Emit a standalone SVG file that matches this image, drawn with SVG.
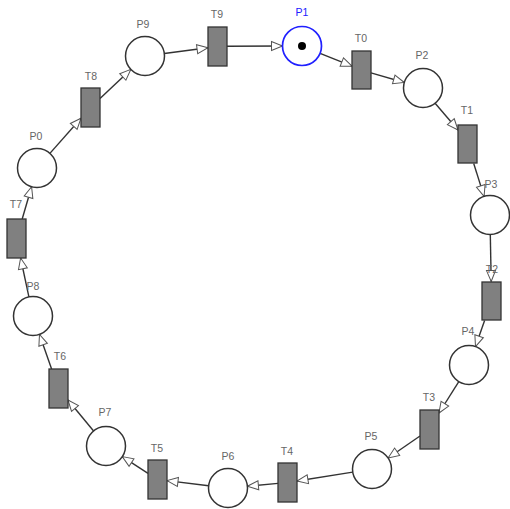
<svg xmlns="http://www.w3.org/2000/svg" width="510" height="509" viewBox="0 0 510 509">
<style>
.pl{fill:#fff;stroke:#333;stroke-width:1.5}
.tr{fill:#808080;stroke:#333;stroke-width:1.3}
.arc{stroke:#333;stroke-width:1.4;fill:none;marker-end:url(#ah)}
.lb{font-family:"Liberation Sans",Arial,sans-serif;font-size:10.5px;fill:#666;text-anchor:middle}
</style>
<defs>
<marker id="ah" markerUnits="userSpaceOnUse" viewBox="-13 -6 14 12" refX="0" refY="0" markerWidth="14" markerHeight="12" orient="auto">
<path d="M0,0 L-11,-4.5 L-11,4.5 Z" fill="#fff" stroke="#555" stroke-width="1"/>
</marker>
</defs>
<rect width="510" height="509" fill="#fff"/>
<g id="arcs">
<line class="arc" x1="320.1" y1="53.3" x2="352" y2="66.2"/>
<line class="arc" x1="371" y1="72.8" x2="404.3" y2="82.5"/>
<line class="arc" x1="435.1" y1="103.3" x2="458" y2="130"/>
<line class="arc" x1="473.7" y1="163.5" x2="484.1" y2="196.4"/>
<line class="arc" x1="490.3" y1="234.5" x2="491.2" y2="281.5"/>
<line class="arc" x1="484.6" y1="320.5" x2="475.5" y2="346.6"/>
<line class="arc" x1="458.8" y1="381.6" x2="439" y2="413"/>
<line class="arc" x1="420" y1="436" x2="388.1" y2="458"/>
<line class="arc" x1="352.7" y1="472.1" x2="297" y2="481"/>
<line class="arc" x1="278" y1="483.4" x2="247.4" y2="486.2"/>
<line class="arc" x1="208.6" y1="485.7" x2="167" y2="480.6"/>
<line class="arc" x1="148" y1="473.3" x2="122.3" y2="456.6"/>
<line class="arc" x1="93.6" y1="431" x2="68" y2="400"/>
<line class="arc" x1="51.6" y1="369" x2="39.5" y2="334.4"/>
<line class="arc" x1="28.9" y1="296.9" x2="20.6" y2="258"/>
<line class="arc" x1="22.2" y1="219" x2="31.6" y2="186.7"/>
<line class="arc" x1="49.9" y1="153.4" x2="81" y2="118.2"/>
<line class="arc" x1="100" y1="98.5" x2="130.8" y2="69.4"/>
<line class="arc" x1="164.3" y1="53.5" x2="208" y2="47.7"/>
<line class="arc" x1="227" y1="46.3" x2="282.5" y2="46"/>
</g>
<g id="P1"><circle cx="302" cy="46" r="19.5" fill="#fff" stroke="#2020ff" stroke-width="1.7"/><circle cx="302" cy="46" r="4" fill="#000"/><text class="lb" x="302" y="16" style="fill:#2020ff">P1</text></g>
<g id="P2"><circle class="pl" cx="423" cy="88" r="19.5"/><text class="lb" x="422" y="59">P2</text></g>
<g id="P3"><circle class="pl" cx="490" cy="215" r="19.5"/><text class="lb" x="491" y="188">P3</text></g>
<g id="P4"><circle class="pl" cx="469" cy="365" r="19.5"/><text class="lb" x="468" y="335">P4</text></g>
<g id="P5"><circle class="pl" cx="372" cy="469" r="19.5"/><text class="lb" x="371" y="440">P5</text></g>
<g id="P6"><circle class="pl" cx="228" cy="488" r="19.5"/><text class="lb" x="228" y="460">P6</text></g>
<g id="P7"><circle class="pl" cx="106" cy="446" r="19.5"/><text class="lb" x="105" y="416">P7</text></g>
<g id="P8"><circle class="pl" cx="33" cy="316" r="19.5"/><text class="lb" x="33" y="290">P8</text></g>
<g id="P0"><circle class="pl" cx="37" cy="168" r="19.5"/><text class="lb" x="36" y="140">P0</text></g>
<g id="P9"><circle class="pl" cx="145" cy="56" r="19.5"/><text class="lb" x="143" y="28">P9</text></g>
<g id="T9"><rect class="tr" x="208" y="27" width="19" height="39"/><text class="lb" x="217" y="18">T9</text></g>
<g id="T0"><rect class="tr" x="352" y="51" width="19" height="38"/><text class="lb" x="361" y="42">T0</text></g>
<g id="T1"><rect class="tr" x="458" y="125" width="19" height="38"/><text class="lb" x="467" y="114">T1</text></g>
<g id="T2"><rect class="tr" x="482" y="282" width="19" height="38"/><text class="lb" x="492" y="273">T2</text></g>
<g id="T3"><rect class="tr" x="420" y="410" width="19" height="39"/><text class="lb" x="429" y="401">T3</text></g>
<g id="T4"><rect class="tr" x="278" y="463" width="19" height="39"/><text class="lb" x="287" y="455">T4</text></g>
<g id="T5"><rect class="tr" x="148" y="460" width="19" height="39"/><text class="lb" x="157" y="452">T5</text></g>
<g id="T6"><rect class="tr" x="49" y="369" width="19" height="39"/><text class="lb" x="60" y="360">T6</text></g>
<g id="T7"><rect class="tr" x="7" y="219" width="19" height="39"/><text class="lb" x="16" y="208">T7</text></g>
<g id="T8"><rect class="tr" x="81" y="88" width="19" height="39"/><text class="lb" x="91" y="80">T8</text></g>
</svg>
